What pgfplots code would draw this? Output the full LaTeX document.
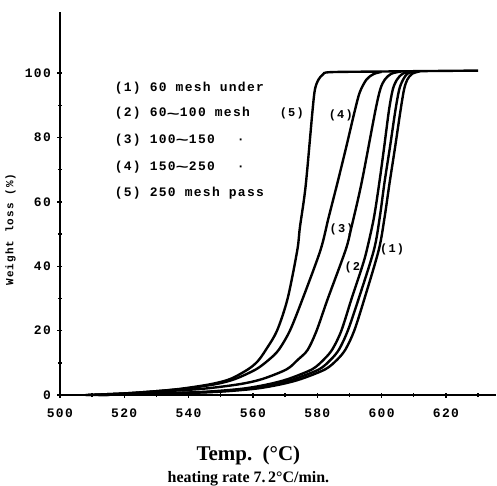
\documentclass[border=0pt]{standalone}
\usepackage{fontspec}
\usepackage{graphicx}
\usepackage{pgfplots}
\pgfplotsset{compat=1.18}
\newfontfamily\dotfont[LetterSpace=10]{Liberation Mono}
\newfontfamily\capfont{Liberation Serif}
\newcommand{\tl}{\raisebox{-0.25ex}{\scalebox{1.7}[1]{\textasciitilde}}}
\pgfplotsset{curve/.style={black, line width=2.4pt, smooth, tension=0.5, mark=none}}

\begin{document}
\begin{tikzpicture}
\begin{axis}[
    name=ax,
    scale only axis,
    width=437pt, height=384pt,
    xmin=500, xmax=635.5,
    ymin=0, ymax=119,
    axis lines=left,
    axis line style={-, line width=2.4pt},
    xtick={500,520,...,620},
    minor xtick={510,530,...,630},
    ytick={0,20,...,100},
    minor ytick={10,30,...,90},
    tick align=center,
    major tick length=5pt,
    minor tick length=4pt,
    every tick/.style={black, line width=1.4pt},
    ticklabel style={font=\dotfont\bfseries\fontsize{13}{15}\selectfont},
    xticklabel style={yshift=-8pt},
    yticklabel style={xshift=-3pt},
    /pgf/number format/assume math mode=true,
    ylabel={Weight loss (\%)},
    ylabel style={at={(rel axis cs:-0.1007,0.432)}, anchor=south, inner sep=0pt,
        font=\dotfont\bfseries\fontsize{11}{13}\selectfont},
    xlabel={{Temp.\ \ (°C)}\\{\fontsize{16}{22}\selectfont heating rate 7.\,2°C/min.}},
    xlabel style={at={(rel axis cs:0.4325,-0.132)}, anchor=north, inner sep=0pt,
        align=center, font=\capfont\bfseries\fontsize{21}{22}\selectfont},
    clip=false,
]
% curve (5)
\addplot[curve] coordinates {
 (508,0) (520,0.5) (530,1.2) (538,2) (547,3.4) (553,5) (558.5,8) (561.5,10.5)
 (564,14) (567.5,20) (570.8,30) (573.8,45) (574.6,52) (576.4,65) (578.5,88)
 (579.3,95) (580.4,98) (581.8,99.6) (584,100.3) (600,100.5) (630,100.8)
};
% curve (4)
\addplot[curve] coordinates {
 (508,0) (520,0.5) (530,1.2) (539,2) (548.5,3.4) (554.5,5) (561,8) (565,11)
 (568,14) (571.5,20) (575.5,30) (581,45) (583.5,55) (586.3,66) (589,77)
 (591.6,88) (593.2,94) (595.3,98) (597.5,99.7) (600,100.4)
};
% curve (3)
\addplot[curve] coordinates {
 (510,0) (522,0.5) (533,1.2) (545,2) (556,3.4) (563,5) (570.5,8) (574,11)
 (577,14) (579.8,20) (583.2,29.7) (588.8,45) (590.6,52) (593.8,66) (598,88)
 (599.6,95) (601,98) (603,99.8) (606,100.5)
};
% unlabeled
\addplot[curve] coordinates {
 (512,0) (530,0.5) (545,1) (557,2) (565,3.4) (571,5) (578.4,8) (582,11)
 (584.7,14.2) (587.5,20) (590.6,29.7) (594,40) (595.4,45) (597.6,55) (599.3,66)
 (600.8,77) (602.3,88.5) (603.5,95) (604.8,98) (606.5,99.8) (609,100.5)
};
% curve (2)
\addplot[curve] coordinates {
 (512,0) (532,0.5) (547,1) (559,2) (567.3,3.4) (573,5) (580.6,8) (584.2,11)
 (586.8,14.2) (589.5,20) (592.8,29.7) (597.6,45) (599.4,55) (600.9,66)
 (602.6,77) (604.3,88.5) (605.5,95) (606.7,98) (608,99.8) (610,100.5)
};
% curve (1)
\addplot[curve] coordinates {
 (512,0) (534,0.5) (549,1) (561,2) (569,3.4) (575,5) (582.5,8) (586.2,11)
 (588.8,14.2) (591.5,20) (594.6,29.7) (599.1,45) (600.9,55) (602.5,66)
 (604.2,77) (605.9,88.5) (607,95) (608,98) (609.5,99.8) (612,100.6)
};
% curve labels
\begin{scope}[every node/.style={font=\dotfont\bfseries\fontsize{12}{14}\selectfont, inner sep=0pt}]
\node at (axis cs:572.1,87.6) {(5)};
\node at (axis cs:587.3,87.0) {(4)};
\node at (axis cs:587.6,51.4) {(3)};
\node[anchor=east] at (axis cs:593.4,39.6) {(2};
\node at (axis cs:603.3,45.2) {(1)};
\end{scope}
% legend text
\begin{scope}[every node/.style={font=\dotfont\bfseries\fontsize{13}{15}\selectfont, inner sep=0pt, anchor=west}]
\node at (axis cs:517,95.4) {(1) 60 mesh under};
\node at (axis cs:517,87.6) {(2) 60\tl100 mesh};
\node at (axis cs:517,79.3) {(3) 100\tl150\hspace{22pt}·};
\node at (axis cs:517,70.9) {(4) 150\tl250\hspace{22pt}·};
\node at (axis cs:517,62.8) {(5) 250 mesh pass};
\end{scope}
\end{axis}
\path ([yshift=12pt]ax.north west) ([xshift=-60pt]ax.south west);
\end{tikzpicture}
\end{document}
